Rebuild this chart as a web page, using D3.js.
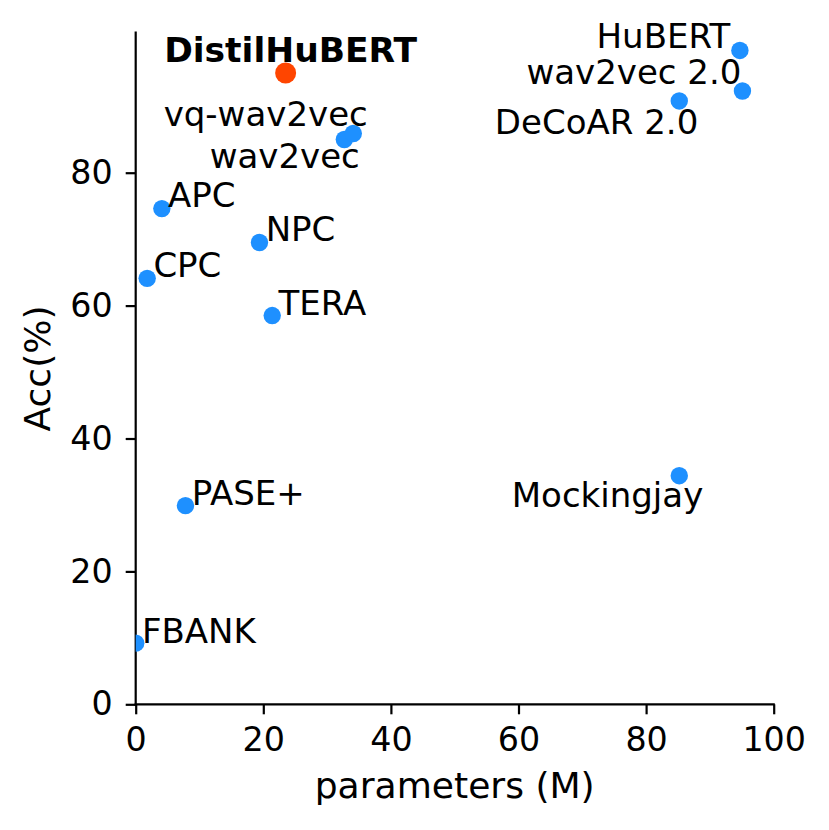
<!DOCTYPE html>
<html>
<head>
<meta charset="utf-8">
<script src="https://cdn.jsdelivr.net/npm/d3@7"></script>
<style>
  html, body { margin: 0; padding: 0; background: #fff; }
  svg { display: block; font-family: "DejaVu Sans", sans-serif; }
</style>
</head>
<body>
<svg id="chart" width="829" height="830"></svg>
<script>
// ---- data ----
const models = ["FBANK", "PASE+", "CPC", "APC", "NPC", "TERA", "Mockingjay",
                "wav2vec", "vq-wav2vec", "DeCoAR 2.0", "wav2vec 2.0", "HuBERT", "DistilHuBERT"];
const params = [0, 7.8, 1.8, 4.1, 19.4, 21.4, 85.2, 32.7, 34.1, 85.2, 95.1, 94.7, 23.5];
const acc    = [9.2, 29.9, 64.1, 74.6, 69.5, 58.5, 34.4, 85.0, 85.9, 90.8, 92.3, 98.4, 95.0];
const highlighted = ["DistilHuBERT"];
const xTicks = [0, 20, 40, 60, 80, 100];
const yTicks = [0, 20, 40, 60, 80];

// ---- label placement (presentation only: anchor + pixel offset) ----
const labelLayout = {
  "FBANK":        {anchor: "start",  dx: 6.2,  dy: 0},
  "PASE+":        {anchor: "start",  dx: 6.2,  dy: -0.5},
  "CPC":          {anchor: "start",  dx: 6.2,  dy: -1},
  "APC":          {anchor: "start",  dx: 6.2,  dy: -1.5},
  "NPC":          {anchor: "start",  dx: 6.2,  dy: -1},
  "TERA":         {anchor: "start",  dx: 6.2,  dy: -0.5},
  "Mockingjay":   {anchor: "end",    dx: 24,   dy: 31.5},
  "wav2vec":      {anchor: "end",    dx: 15.5, dy: 28.4},
  "vq-wav2vec":   {anchor: "end",    dx: 14.5, dy: -7.3},
  "DeCoAR 2.0":   {anchor: "end",    dx: 19,   dy: 32.6},
  "wav2vec 2.0":  {anchor: "end",    dx: -1,   dy: -7.4},
  "HuBERT":       {anchor: "end",    dx: -9.5, dy: -2.4},
  "DistilHuBERT": {anchor: "middle", dx: 5,    dy: -10.6}
};

const W = 829, H = 830;
const margin = {left: 135.7, right: W - 773.7, top: 32.7, bottom: H - 704.3};
const yMax = 101.07;
const x = d3.scaleLinear().domain([0, 100]).range([margin.left, W - margin.right]);
const y = d3.scaleLinear().domain([0, yMax]).range([H - margin.bottom, margin.top]);

const svg = d3.select("#chart");
const FS_TICK = 33.3, FS_LABEL = 34, FS_BOLD = 34.5, FS_TITLE = 36.1;

svg.append("defs").append("clipPath").attr("id", "plotclip")
  .append("rect")
  .attr("x", x(0)).attr("y", y(yMax))
  .attr("width", x(100) - x(0)).attr("height", y(0) - y(yMax));

// axes
const xAxis = svg.append("g")
  .attr("transform", `translate(0,${y(0)})`)
  .call(d3.axisBottom(x).tickValues(xTicks).tickSize(10).tickPadding(13).tickFormat(d3.format("d")));
const yAxis = svg.append("g")
  .attr("transform", `translate(${x(0)},0)`)
  .call(d3.axisLeft(y).tickValues(yTicks).tickSize(10).tickPadding(13).tickFormat(d3.format("d")));
[xAxis, yAxis].forEach(g => {
  g.select(".domain").remove();
  g.selectAll(".tick line").attr("stroke", "#000").attr("stroke-width", 2.2);
  g.selectAll(".tick text").attr("fill", "#000")
    .style("font-size", FS_TICK + "px").style("font-family", "DejaVu Sans, sans-serif");
});
// spines (left and bottom only)
svg.append("line").attr("x1", x(0)).attr("x2", x(100)).attr("y1", y(0)).attr("y2", y(0))
  .attr("stroke", "#000").attr("stroke-width", 2.2).attr("stroke-linecap", "square");
svg.append("line").attr("x1", x(0)).attr("x2", x(0)).attr("y1", y(0)).attr("y2", y(yMax))
  .attr("stroke", "#000").attr("stroke-width", 2.2).attr("stroke-linecap", "square");

// axis titles
svg.append("text")
  .attr("x", (x(0) + x(100)) / 2).attr("y", 798)
  .attr("text-anchor", "middle")
  .style("font-size", FS_TITLE + "px").text("parameters (M)");
svg.append("text")
  .attr("transform", `translate(50,${(y(0) + y(yMax)) / 2}) rotate(-90)`)
  .attr("text-anchor", "middle")
  .style("font-size", FS_TITLE + "px").text("Acc(%)");

// points
const rows = models.map((m, i) => ({name: m, p: params[i], a: acc[i], hi: highlighted.includes(m)}));
svg.append("g").attr("clip-path", "url(#plotclip)")
  .selectAll("circle").data(rows).join("circle")
  .attr("cx", d => x(d.p)).attr("cy", d => y(d.a))
  .attr("r", d => d.hi ? 10.5 : 8.7)
  .attr("fill", d => d.hi ? "#FF4500" : "#1E90FF");

// labels
svg.append("g").selectAll("text").data(rows).join("text")
  .attr("x", d => x(d.p) + labelLayout[d.name].dx)
  .attr("y", d => y(d.a) + labelLayout[d.name].dy)
  .attr("text-anchor", d => labelLayout[d.name].anchor)
  .style("font-size", d => (d.hi ? FS_BOLD : FS_LABEL) + "px")
  .style("font-weight", d => d.hi ? "bold" : "normal")
  .text(d => d.name);
</script>
</body>
</html>
